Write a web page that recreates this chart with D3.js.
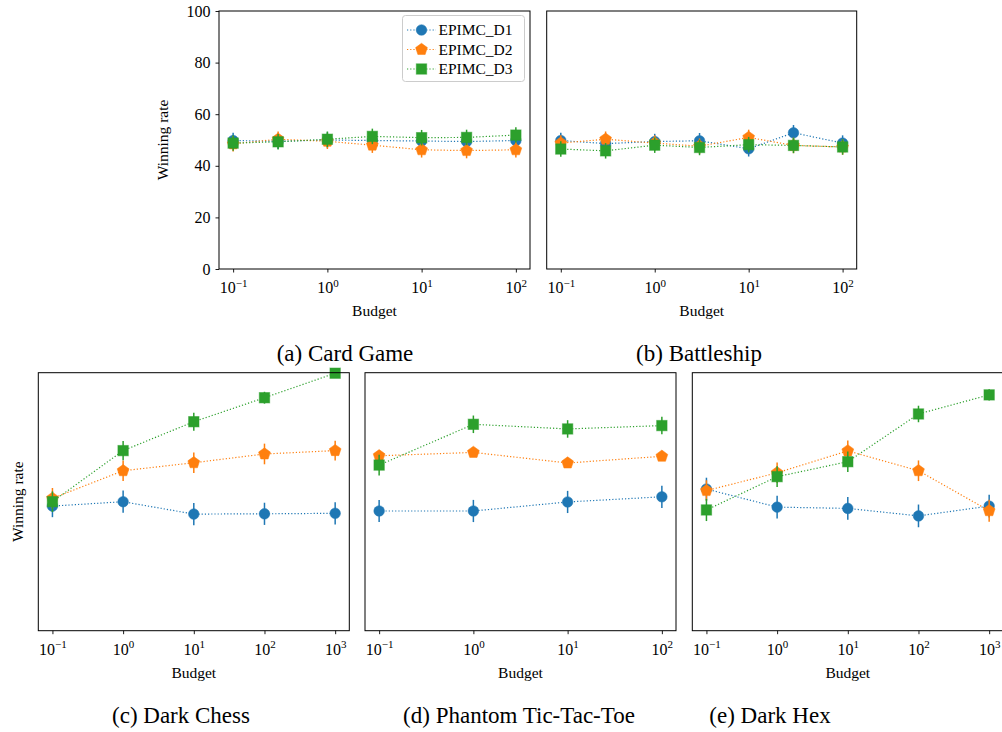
<!DOCTYPE html>
<html><head><meta charset="utf-8">
<script src="https://cdn.jsdelivr.net/npm/d3@7"></script>
<style>
body{margin:0;background:#fff}
svg{display:block}
svg text{font-family:"Liberation Serif","Times New Roman","DejaVu Serif",serif !important;fill:#000}
</style>
</head><body>
<svg id="chart" width="1002" height="732" font-family="Liberation Serif, serif"></svg>
<script>
// ---------- data ----------
const seriesNames = ["EPIMC_D1", "EPIMC_D2", "EPIMC_D3"];
const yTickValues = [0, 20, 40, 60, 80, 100];

// (a) Card Game
const cardBudgets = [0.1, 0.3, 1, 3, 10, 30, 100];
const cardD1 = [49.8, 49.5, 50.0, 49.8, 49.6, 49.4, 49.8];
const cardD2 = [48.5, 50.3, 49.5, 48.0, 46.2, 45.9, 46.2];
const cardD3 = [48.8, 49.3, 50.3, 51.4, 50.9, 51.0, 51.9];
const cardErr1 = [3, 3, 3, 3, 3, 3, 3];
const cardErr2 = [3, 3, 3, 3, 3, 3, 3];
const cardErr3 = [3, 3, 3, 3, 3, 3, 3];

// (b) Battleship
const shipBudgets = [0.1, 0.3, 1, 3, 10, 30, 100];
const shipD1 = [49.8, 48.6, 49.4, 49.7, 46.6, 52.8, 48.8];
const shipD2 = [48.8, 50.3, 48.8, 47.6, 51.0, 47.9, 47.3];
const shipD3 = [46.5, 45.8, 48.0, 47.1, 48.2, 47.9, 47.3];
const shipErr1 = [3, 3, 3, 3, 3, 3, 3];
const shipErr2 = [3, 3, 3, 3, 3, 3, 3];
const shipErr3 = [3, 3, 3, 3, 3, 3, 3];

// (c) Dark Chess
const chessBudgets = [0.1, 1, 10, 100, 1000];
const chessD1 = [48.3, 50.0, 45.2, 45.3, 45.5];
const chessD2 = [51.3, 62.0, 65.1, 68.5, 69.8];
const chessD3 = [50.0, 69.8, 81.0, 90.3, 99.8];
const chessErr1 = [4.3, 4.3, 4.3, 4.3, 4.3];
const chessErr2 = [4.0, 4.0, 4.0, 4.0, 3.8];
const chessErr3 = [4.0, 3.7, 3.5, 2.3, 1.0];

// (d) Phantom Tic-Tac-Toe
const tttBudgets = [0.1, 1, 10, 100];
const tttD1 = [46.4, 46.4, 49.9, 51.9];
const tttD2 = [67.8, 69.1, 65.0, 67.6];
const tttD3 = [64.2, 80.0, 78.2, 79.5];
const tttErr1 = [4.3, 4.3, 4.3, 4.3];
const tttErr2 = [1.5, 1.5, 1.5, 1.5];
const tttErr3 = [4.0, 3.4, 3.4, 3.4];

// (e) Dark Hex
const hexBudgets = [0.1, 1, 10, 100, 1000];
const hexD1 = [54.9, 47.9, 47.4, 44.5, 48.3];
const hexD2 = [54.3, 61.2, 69.7, 62.0, 46.5];
const hexD3 = [46.8, 59.7, 65.5, 84.0, 91.4];
const hexErr1 = [4.4, 4.4, 4.4, 4.4, 4.4];
const hexErr2 = [4.0, 4.0, 4.0, 4.0, 4.3];
const hexErr3 = [4.3, 4.0, 4.0, 3.2, 2.2];

// ---------- styling / layout ----------
const FONT = "Liberation Serif";
const colors = ["#1f77b4", "#ff7f0e", "#2ca02c"];
const markerKinds = ["circle", "pentagon", "square"];

const panels = [
  {budgets: cardBudgets, ys: [cardD1, cardD2, cardD3], errs: [cardErr1, cardErr2, cardErr3],
   x0: 219, x1: 530, y0: 11, y1: 269, decades: [-1, 0, 1, 2], yAxis: true, ylabelX: 163,
   legend: true, caption: "(a) Card Game", capX: 345, capY: 361},
  {budgets: shipBudgets, ys: [shipD1, shipD2, shipD3], errs: [shipErr1, shipErr2, shipErr3],
   x0: 546.7, x1: 856.7, y0: 11, y1: 269, decades: [-1, 0, 1, 2], yAxis: false,
   caption: "(b) Battleship", capX: 699, capY: 361},
  {budgets: chessBudgets, ys: [chessD1, chessD2, chessD3], errs: [chessErr1, chessErr2, chessErr3],
   x0: 38.3, x1: 349.3, y0: 372.7, y1: 630.7, decades: [-1, 0, 1, 2, 3], yAxis: false, ylabelX: 18,
   caption: "(c) Dark Chess", capX: 181, capY: 723},
  {budgets: tttBudgets, ys: [tttD1, tttD2, tttD3], errs: [tttErr1, tttErr2, tttErr3],
   x0: 365, x1: 676, y0: 372.7, y1: 630.7, decades: [-1, 0, 1, 2], yAxis: false,
   caption: "(d) Phantom Tic-Tac-Toe", capX: 519, capY: 723},
  {budgets: hexBudgets, ys: [hexD1, hexD2, hexD3], errs: [hexErr1, hexErr2, hexErr3],
   x0: 692.3, x1: 1003.3, y0: 372.7, y1: 630.7, decades: [-1, 0, 1, 2, 3], yAxis: false,
   caption: "(e) Dark Hex", capX: 770, capY: 723}
];

const svg = d3.select("#chart");

function pentagonPath(r) {
  const pts = d3.range(5).map(i => {
    const a = -Math.PI / 2 + i * 2 * Math.PI / 5;
    return [r * Math.cos(a), r * Math.sin(a)];
  });
  return "M" + pts.map(p => p.join(",")).join("L") + "Z";
}
function drawMarker(g, kind, color) {
  let m;
  if (kind === "circle") m = g.append("circle").attr("r", 5.3);
  else if (kind === "square") m = g.append("rect").attr("x", -5.2).attr("y", -5.2).attr("width", 10.4).attr("height", 10.4);
  else m = g.append("path").attr("d", pentagonPath(6.2));
  m.attr("fill", color).attr("stroke", color).attr("stroke-opacity", 0.5).attr("stroke-width", 1);
  return m;
}
function supLabel(sel, e) {
  sel.text(null);
  sel.append("tspan").text("10");
  sel.append("tspan").attr("font-size", 11).attr("dy", -6.5).text(e < 0 ? "\u2212" + (-e) : String(e));
}

panels.forEach(p => {
  const ext = d3.extent(p.decades);
  const pad = (ext[1] - ext[0]) * 0.05;
  const x = d3.scaleLog().domain([Math.pow(10, ext[0] - pad), Math.pow(10, ext[1] + pad)]).range([p.x0, p.x1]);
  const y = d3.scaleLinear().domain([0, 100]).range([p.y1, p.y0]);
  const g = svg.append("g");

  // x axis
  const xa = g.append("g").attr("transform", `translate(0,${p.y1})`)
    .call(d3.axisBottom(x).tickValues(p.decades.map(d => Math.pow(10, d))).tickSize(3.5).tickPadding(6).tickFormat(""));
  xa.attr("font-family", FONT);
  xa.select(".domain").remove();
  xa.selectAll(".tick line").attr("stroke", "#000").attr("stroke-width", 0.9);
  xa.selectAll(".tick text").each(function(d, i) {
    const t = d3.select(this).attr("font-size", 16).attr("font-family", FONT).attr("y", 24).attr("dy", null);
    supLabel(t, p.decades[i]);
  });

  // y axis
  if (p.yAxis) {
    const ya = g.append("g").attr("transform", `translate(${p.x0},0)`)
      .call(d3.axisLeft(y).tickValues(yTickValues).tickSize(3.5).tickPadding(5));
    ya.attr("font-family", FONT);
    ya.select(".domain").remove();
    ya.selectAll(".tick line").attr("stroke", "#000").attr("stroke-width", 0.9);
    ya.selectAll(".tick text").attr("font-size", 16).attr("font-family", FONT).attr("fill", "#000");
  }
  if (p.ylabelX !== undefined) {
    g.append("text").attr("transform", `translate(${p.ylabelX},${(p.y0 + p.y1) / 2}) rotate(-90)`)
      .attr("text-anchor", "middle").attr("dy", "0.35em").attr("font-family", FONT).attr("font-size", 15.5).text("Winning rate");
  }
  g.append("text").attr("x", (p.x0 + p.x1) / 2).attr("y", p.y1 + 47).attr("text-anchor", "middle")
    .attr("font-family", FONT).attr("font-size", 15.5).text("Budget");

  // data series
  p.ys.forEach((vals, si) => {
    const c = colors[si];
    const pts = p.budgets.map((b, i) => ({b, v: vals[i], e: p.errs[si][i]}));
    g.append("path").datum(pts)
      .attr("d", d3.line().x(d => x(d.b)).y(d => y(d.v)))
      .attr("fill", "none").attr("stroke", c).attr("stroke-width", 1.2).attr("stroke-dasharray", "1.2,2");
    g.selectAll(null).data(pts).enter().append("line")
      .attr("x1", d => x(d.b)).attr("x2", d => x(d.b))
      .attr("y1", d => y(d.v - d.e)).attr("y2", d => y(d.v + d.e))
      .attr("stroke", c).attr("stroke-width", 1.5);
    pts.forEach(d => {
      const mg = g.append("g").attr("transform", `translate(${x(d.b)},${y(d.v)})`);
      drawMarker(mg, markerKinds[si], c);
    });
  });

  // frame
  g.append("rect").attr("x", p.x0).attr("y", p.y0).attr("width", p.x1 - p.x0).attr("height", p.y1 - p.y0)
    .attr("fill", "none").attr("stroke", "#000").attr("stroke-width", 1);

  // legend
  if (p.legend) {
    const lg = g.append("g");
    lg.append("rect").attr("x", 402.5).attr("y", 15.5).attr("width", 122).attr("height", 66)
      .attr("rx", 3).attr("fill", "#fff").attr("fill-opacity", 0.8).attr("stroke", "#cccccc").attr("stroke-width", 1);
    seriesNames.forEach((name, si) => {
      const cy = 30 + si * 19.5;
      lg.append("line").attr("x1", 407).attr("x2", 436).attr("y1", cy).attr("y2", cy)
        .attr("stroke", colors[si]).attr("stroke-width", 1.2).attr("stroke-dasharray", "1.2,2");
      const mg = lg.append("g").attr("transform", `translate(421.5,${cy})`);
      drawMarker(mg, markerKinds[si], colors[si]);
      lg.append("text").attr("x", 438.5).attr("y", cy).attr("dy", "0.35em")
        .attr("font-family", FONT).attr("font-size", 15.5).text(name);
    });
  }

  // caption
  svg.append("text").attr("x", p.capX).attr("y", p.capY).attr("text-anchor", "middle")
    .attr("font-family", FONT).attr("font-size", 23).text(p.caption);
});
</script>
</body></html>
